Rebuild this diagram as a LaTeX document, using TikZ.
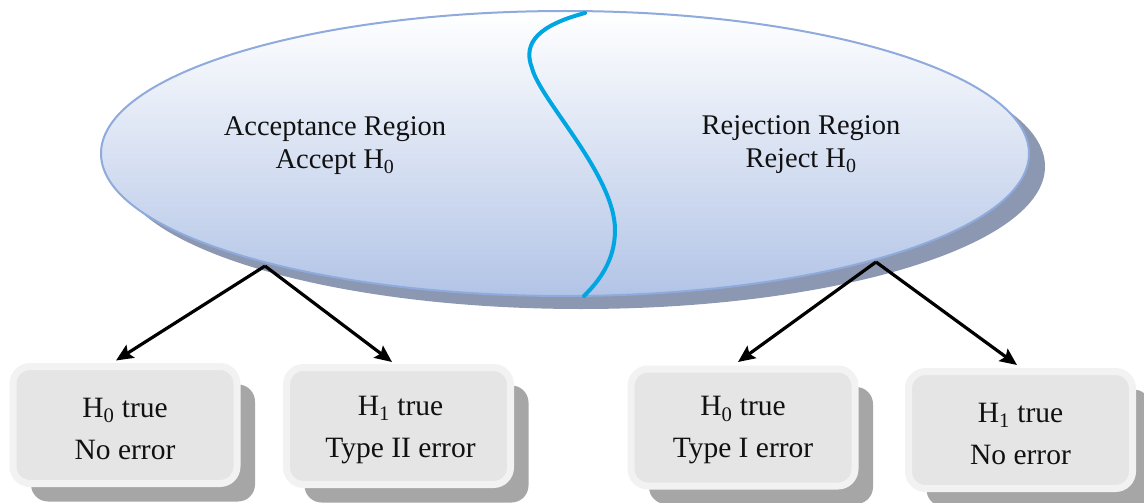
\documentclass[tikz,border=0pt]{standalone}
\usepackage{fontspec}
\setmainfont{Liberation Serif}
\usetikzlibrary{shapes.geometric,shadows,arrows.meta,calc}
\definecolor{ellborder}{HTML}{8FAADC}
\definecolor{elltop}{HTML}{FFFFFF}
\definecolor{ellbottom}{HTML}{B2C4E6}
\definecolor{ellshadow}{HTML}{8C98B1}
\definecolor{divider}{HTML}{00A6E2}
\definecolor{boxfill}{HTML}{E5E5E5}
\definecolor{boxrim}{HTML}{F2F2F2}
\definecolor{boxshadow}{HTML}{A6A6A6}
\definecolor{ink}{HTML}{111111}

\begin{document}
\begin{tikzpicture}[x=1pt,y=-1pt,
  region/.style={ellipse, minimum width=928pt, minimum height=285pt,
    draw=ellborder, line width=2pt, top color=elltop, bottom color=ellbottom,
    inner sep=0pt, outer sep=0pt,
    drop shadow={shadow xshift=16pt, shadow yshift=-13pt, fill=ellshadow, opacity=1}},
  regionlabel/.style={align=center, text=ink, font=\fontsize{28.5}{33}\selectfont},
  outcome/.style={rectangle, rounded corners=17pt, draw=boxrim, line width=7pt,
    fill=boxfill, minimum width=224pt, minimum height=117pt, inner sep=0pt,
    outer sep=0pt,
    drop shadow={shadow xshift=18pt, shadow yshift=-18pt, fill=boxshadow, opacity=1}},
  outcometext/.style={align=center, text=ink, inner sep=0pt,
    font=\fontsize{29.5}{42}\selectfont},
  branch/.style={line width=3.2pt, -{Stealth[length=17pt, width=15pt, inset=3pt]}},
]
\useasboundingbox (0,0) rectangle (1144,503);

% decision space
\node[region] (space) at (565,153.5) {};
\node[regionlabel] (acc) at (335,146) {Acceptance Region\\Accept H\textsubscript{0}};
\node[regionlabel] (rej) at (801,145) {Rejection Region\\Reject H\textsubscript{0}};

% boundary between the two regions
\draw[divider, line width=4pt, line cap=round]
  (585,13) .. controls (540,25) and (522,42) .. (532,68)
           .. controls (540,100) and (615,175) .. (615,230)
           .. controls (615,260) and (600,280) .. (584,296);

% outcomes
\node[outcome] (b1) at (125,425) {};
\node[outcome] (b2) at (398.5,426) {};
\node[outcome] (b3) at (743,427.5) {};
\node[outcome] (b4) at (1020.5,430) {};
\node[outcometext] (b1t) at ($(b1)+(0,4)$) {H\textsubscript{0} true\\No error};
\node[outcometext] (b2t) at ($(b2)+(2,4)$) {H\textsubscript{1} true\\Type II error};
\node[outcometext] (b3t) at ($(b3)+(0,3)$) {H\textsubscript{0} true\\Type I error};
\node[outcometext] (b4t) at ($(b4)+(0,4)$) {H\textsubscript{1} true\\No error};

% branch points on the lower rim
\coordinate (accfoot) at (265,266);
\coordinate (rejfoot) at (876,262);

\draw[branch] (accfoot) -- ($(b1.north)+(-9,-6)$);
\draw[branch] (accfoot) -- ($(b2.north)+(-6.5,-5.5)$);
\draw[branch] (rejfoot) -- ($(b3.north)+(-5,-7)$);
\draw[branch] (rejfoot) -- ($(b4.north)+(-3.5,-6.5)$);
\end{tikzpicture}
\end{document}
